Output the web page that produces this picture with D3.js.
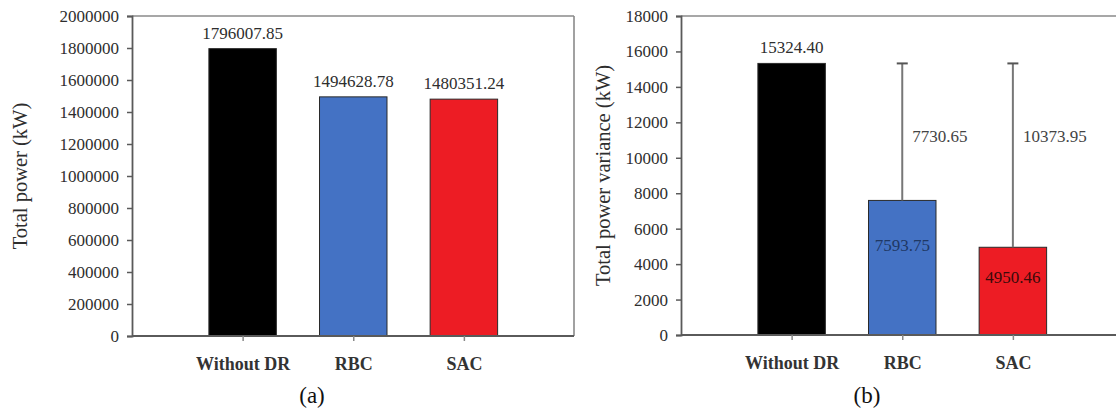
<!DOCTYPE html>
<html>
<head>
<meta charset="utf-8">
<script src="https://cdn.jsdelivr.net/npm/d3@7"></script>
<style>
  html, body { margin: 0; padding: 0; background: #fff; }
  svg { display: block; }
  text { font-family: "Liberation Serif", "Times New Roman", serif; }
</style>
</head>
<body>
<svg id="chart" width="1116" height="411"></svg>
<script>
// Categories shared by both panels
const categories = ["Without DR", "RBC", "SAC"];
const barColors = ["#000000", "#4472C4", "#ED1C24"];

// Panel (a): total power
const totalPower = [1796007.85, 1494628.78, 1480351.24];
const totalPowerLabels = ["1796007.85", "1494628.78", "1480351.24"];
const powerTicks = [0, 200000, 400000, 600000, 800000, 1000000, 1200000, 1400000, 1600000, 1800000, 2000000];

// Panel (b): total power variance, with one-sided error bars
const powerVariance = [15324.40, 7593.75, 4950.46];
const varianceLabels = ["15324.40", "7593.75", "4950.46"];
const varianceErrors = [null, 7730.65, 10373.95];
const errorLabels = [null, "7730.65", "10373.95"];
const varianceTicks = [0, 2000, 4000, 6000, 8000, 10000, 12000, 14000, 16000, 18000];

const svg = d3.select("#chart");
const barWidth = 0.61;

function panel(opts) {
  const g = svg.append("g");
  const x = d3.scaleLinear().domain([0, 4]).range([opts.left, opts.left + 442.5]);
  const y = d3.scaleLinear().domain([0, opts.max]).range([opts.bottom, opts.top]);

  // frame (top and right edges)
  g.append("line").attr("x1", opts.left).attr("x2", opts.frameRight)
    .attr("y1", opts.top).attr("y2", opts.top)
    .attr("stroke", "#8a8a8a").attr("stroke-width", 1.6);
  if (opts.frameRight < 1116) {
    g.append("line").attr("x1", opts.frameRight).attr("x2", opts.frameRight)
      .attr("y1", opts.top).attr("y2", opts.bottom)
      .attr("stroke", "#8a8a8a").attr("stroke-width", 1.6);
  }

  // bars
  g.selectAll("rect.bar").data(opts.values).join("rect")
    .attr("class", "bar")
    .attr("x", (d, i) => x(i + 1 - barWidth / 2))
    .attr("width", x(barWidth) - x(0))
    .attr("y", d => y(d))
    .attr("height", d => y(0) - y(d))
    .attr("fill", (d, i) => barColors[i])
    .attr("stroke", "#2a2a2a").attr("stroke-width", 1);

  // y axis
  const yAxis = d3.axisLeft(y).tickValues(opts.ticks).tickFormat(d3.format("d"))
    .tickSize(5).tickPadding(8);
  const ya = g.append("g").attr("transform", `translate(${opts.left},0)`).call(yAxis);
  ya.select(".domain").attr("stroke", "#5a5a5a").attr("stroke-width", 1.8);
  ya.selectAll(".tick line").attr("stroke", "#5a5a5a").attr("stroke-width", 1.5);
  ya.selectAll(".tick text").attr("font-size", 17).attr("fill", "#2e2e2e");

  // x axis
  const xAxis = d3.axisBottom(x).tickValues([1, 2, 3]).tickFormat(d => categories[d - 1])
    .tickSize(5).tickPadding(16).tickSizeOuter(0);
  const xa = g.append("g").attr("transform", `translate(0,${opts.bottom})`).call(xAxis);
  xa.select(".domain").attr("d", `M${opts.left},0H${opts.frameRight}`)
    .attr("stroke", "#5a5a5a").attr("stroke-width", 1.8);
  xa.selectAll(".tick line").attr("stroke", "#888").attr("stroke-width", 1.5);
  xa.selectAll(".tick text").attr("font-size", 18).attr("font-weight", "bold")
    .attr("fill", "#333");

  // axis title
  g.append("text")
    .attr("transform", `translate(${opts.titleX},${(opts.top + opts.bottom) / 2}) rotate(-90)`)
    .attr("text-anchor", "middle").attr("dy", "0.35em")
    .attr("font-size", 20.5).attr("fill", "#2e2e2e").text(opts.title);

  // caption
  g.append("text").attr("x", opts.captionX).attr("y", 403)
    .attr("text-anchor", "middle").attr("font-size", 23).attr("fill", "#111")
    .text(opts.caption);

  return { g, x, y };
}

// ---- Panel (a)
const pa = panel({
  left: 132, frameRight: 574, top: 16, bottom: 336, max: 2000000,
  ticks: powerTicks, values: totalPower, title: "Total power (kW)",
  titleX: 20, caption: "(a)", captionX: 312
});
pa.g.selectAll("text.val").data(totalPower).join("text")
  .attr("class", "val")
  .attr("x", (d, i) => pa.x(i + 1))
  .attr("y", d => pa.y(d) - 10)
  .attr("text-anchor", "middle").attr("font-size", 17).attr("fill", "#2e2e2e")
  .text((d, i) => totalPowerLabels[i]);

// ---- Panel (b)
const pb = panel({
  left: 681, frameRight: 1116, top: 16, bottom: 335, max: 18000,
  ticks: varianceTicks, values: powerVariance, title: "Total power variance (kW)",
  titleX: 603, caption: "(b)", captionX: 867
});

// error bars (upper side only)
const errIdx = [1, 2];
pb.g.selectAll("line.err").data(errIdx).join("line")
  .attr("class", "err")
  .attr("x1", i => pb.x(i + 1)).attr("x2", i => pb.x(i + 1))
  .attr("y1", i => pb.y(powerVariance[i]))
  .attr("y2", i => pb.y(powerVariance[i] + varianceErrors[i]))
  .attr("stroke", "#777").attr("stroke-width", 2);
pb.g.selectAll("line.cap").data(errIdx).join("line")
  .attr("class", "cap")
  .attr("x1", i => pb.x(i + 1) - 5.5).attr("x2", i => pb.x(i + 1) + 5.5)
  .attr("y1", i => pb.y(powerVariance[i] + varianceErrors[i]))
  .attr("y2", i => pb.y(powerVariance[i] + varianceErrors[i]))
  .attr("stroke", "#555").attr("stroke-width", 2);

// error values, written beside each error bar
pb.g.selectAll("text.errval").data(errIdx).join("text")
  .attr("class", "errval")
  .attr("x", i => pb.x(i + 1) + 10)
  .attr("y", pb.y(11200)).attr("dy", "0.35em")
  .attr("font-size", 17).attr("fill", "#444")
  .text(i => errorLabels[i]);

// bar values: above the first bar, inside the others
pb.g.append("text")
  .attr("x", pb.x(1)).attr("y", pb.y(powerVariance[0]) - 10)
  .attr("text-anchor", "middle").attr("font-size", 17).attr("fill", "#2e2e2e")
  .text(varianceLabels[0]);
const insideColors = [null, "#1F3864", "#3a0a0a"];
pb.g.selectAll("text.inval").data(errIdx).join("text")
  .attr("class", "inval")
  .attr("x", i => pb.x(i + 1))
  .attr("y", i => pb.y(powerVariance[i] * 0.665)).attr("dy", "0.35em")
  .attr("text-anchor", "middle").attr("font-size", 17)
  .attr("fill", i => insideColors[i])
  .text(i => varianceLabels[i]);
</script>
</body>
</html>
